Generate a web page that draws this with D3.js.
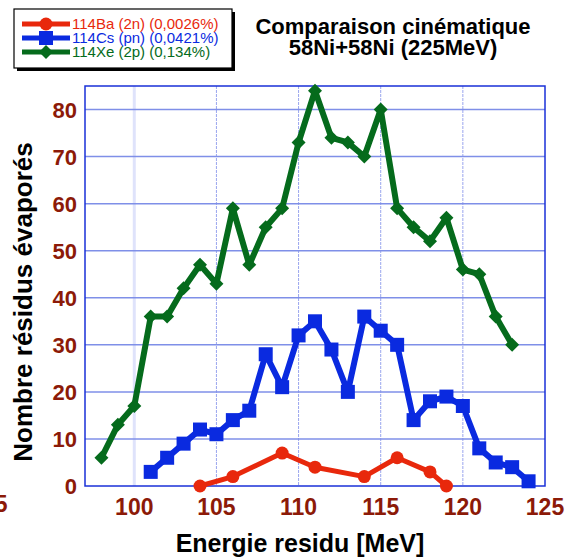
<!DOCTYPE html>
<html>
<head>
<meta charset="utf-8">
<script src="https://cdn.jsdelivr.net/npm/d3@7"></script>
<style>
body { margin: 0; background: #fff; }
svg { font-family: "Liberation Sans", Arial, sans-serif; }
</style>
</head>
<body>
<div id="chart-area"></div>
<script>
// values
const baX = [104, 106, 109, 111, 114, 116, 118, 119]
const baY = [0, 2, 7, 4, 2, 6, 3, 0]

const csX = [101, 102, 103, 104, 105, 106, 107, 108, 109, 110, 111, 112, 113, 114, 115, 116, 117, 118, 119, 120, 121, 122, 123, 124]
const csY = [3, 6, 9, 12, 11, 14, 16, 28, 21, 32, 35, 29, 20, 36, 33, 30, 14, 18, 19, 17, 8, 5, 4, 1]

const xeX = [98, 99, 100, 101, 102, 103, 104, 105, 106, 107, 108, 109, 110, 111, 112, 113, 114, 115, 116, 117, 118, 119, 120, 121, 122, 123]
const xeY = [6, 13, 17, 36, 36, 42, 47, 43, 59, 47, 55, 59, 73, 84, 74, 73, 70, 80, 59, 55, 52, 57, 46, 45, 36, 30]

const xTicks = [100, 105, 110, 115, 120, 125]
const yTicks = [0, 10, 20, 30, 40, 50, 60, 70, 80]
const seriesNames = ["114Ba (2n) (0,0026%)", "114Cs (pn) (0,0421%)", "114Xe (2p) (0,134%)"]

const width = 566, height = 557
const plotL = 85, plotR = 545, plotT = 86, plotB = 486

const svg = d3.select("#chart-area").append("svg")
	.attr("width", width)
	.attr("height", height)

const x = d3.scaleLinear().domain([97, 125]).range([plotL, plotR])
const y = d3.scaleLinear().domain([0, 85]).range([plotB, plotT])

const tickColor = "#8c1a08"

// grid
svg.append("g").selectAll("line")
	.data(xTicks.slice(0, -1))
	.enter().append("line")
	.attr("x1", d => x(d)).attr("x2", d => x(d))
	.attr("y1", plotT).attr("y2", plotB)
	.attr("stroke", d => d === 100 ? "#dfe3fb" : "#9aa6ee")
	.attr("stroke-width", d => d === 100 ? 3 : 1)
	.attr("stroke-dasharray", d => d === 100 ? null : "3,1")

svg.append("g").selectAll("line")
	.data(yTicks.slice(1))
	.enter().append("line")
	.attr("x1", plotL).attr("x2", plotR)
	.attr("y1", d => y(d)).attr("y2", d => y(d))
	.attr("stroke", "#7f8fe8")
	.attr("stroke-width", 1.5)

svg.append("rect")
	.attr("x", plotL).attr("y", plotT)
	.attr("width", plotR - plotL).attr("height", plotB - plotT)
	.attr("fill", "none")
	.attr("stroke", "#1a30d8")
	.attr("stroke-width", 1.5)

// tick labels
svg.append("g").selectAll("text")
	.data(yTicks)
	.enter().append("text")
	.attr("x", 77)
	.attr("y", d => y(d) + 8)
	.attr("text-anchor", "end")
	.attr("font-size", 22)
	.attr("font-weight", "bold")
	.attr("fill", tickColor)
	.text(d => d)

svg.append("g").selectAll("text")
	.data(xTicks)
	.enter().append("text")
	.attr("x", d => x(d))
	.attr("y", 515)
	.attr("text-anchor", "middle")
	.attr("font-size", 23)
	.attr("font-weight", "bold")
	.attr("fill", tickColor)
	.text(d => d)

// stray clipped label at the far left
svg.append("text")
	.attr("x", 7.5).attr("y", 512)
	.attr("text-anchor", "end")
	.attr("font-size", 23)
	.attr("font-weight", "bold")
	.attr("fill", tickColor)
	.text("95")

// axis titles
svg.append("text")
	.attr("x", 300).attr("y", 552)
	.attr("text-anchor", "middle")
	.attr("font-size", 25)
	.attr("font-weight", "bold")
	.text("Energie residu [MeV]")

svg.append("text")
	.attr("transform", "translate(32,302) rotate(-90)")
	.attr("text-anchor", "middle")
	.attr("font-size", 26)
	.attr("font-weight", "bold")
	.text("Nombre résidus évaporés")

svg.append("text")
	.attr("x", 393).attr("y", 34)
	.attr("text-anchor", "middle")
	.attr("font-size", 22)
	.attr("font-weight", "bold")
	.text("Comparaison cinématique")
svg.append("text")
	.attr("x", 393).attr("y", 55)
	.attr("text-anchor", "middle")
	.attr("font-size", 22)
	.attr("font-weight", "bold")
	.text("58Ni+58Ni (225MeV)")

// series
const colors = ["#e8280c", "#0a2ae0", "#056b1c"]
const series = [
	{ xs: baX, ys: baY, color: colors[0], shape: "circle", w: 5 },
	{ xs: csX, ys: csY, color: colors[1], shape: "square", w: 6 },
	{ xs: xeX, ys: xeY, color: colors[2], shape: "diamond", w: 6 }
]

const line = d3.line().x(d => x(d[0])).y(d => y(d[1]))

function marker(g, shape, color) {
	if (shape === "circle") {
		g.append("circle").attr("r", 6.5).attr("fill", color)
	} else if (shape === "square") {
		g.append("rect").attr("x", -7).attr("y", -7).attr("width", 14).attr("height", 14).attr("fill", color)
	} else {
		g.append("path").attr("d", "M0,-7L7,0L0,7L-7,0Z").attr("fill", color)
	}
}

series.slice().reverse().forEach(s => {
	const pts = s.xs.map((v, i) => [v, s.ys[i]])
	svg.append("path")
		.datum(pts)
		.attr("d", line)
		.attr("fill", "none")
		.attr("stroke", s.color)
		.attr("stroke-width", s.w)
		.attr("stroke-linejoin", "round")
	pts.forEach(p => {
		const g = svg.append("g").attr("transform", `translate(${x(p[0])},${y(p[1])})`)
		marker(g, s.shape, s.color)
	})
})

// legend
const lg = svg.append("g")
lg.append("rect").attr("x", 17).attr("y", 12).attr("width", 218).attr("height", 59).attr("fill", "#000")
lg.append("rect").attr("x", 14).attr("y", 9).attr("width", 218).attr("height", 59)
	.attr("fill", "#fff").attr("stroke", "#000").attr("stroke-width", 1.2)

series.forEach((s, i) => {
	const yy = 24 + i * 14
	lg.append("line").attr("x1", 22).attr("x2", 70).attr("y1", yy).attr("y2", yy)
		.attr("stroke", s.color).attr("stroke-width", 5)
	const g = lg.append("g").attr("transform", `translate(46,${yy})`)
	marker(g, s.shape, s.color)
	lg.append("text").attr("x", 72).attr("y", yy + 4.5)
		.attr("font-size", 15)
		.attr("fill", s.color)
		.text(seriesNames[i])
})
</script>
</body>
</html>
